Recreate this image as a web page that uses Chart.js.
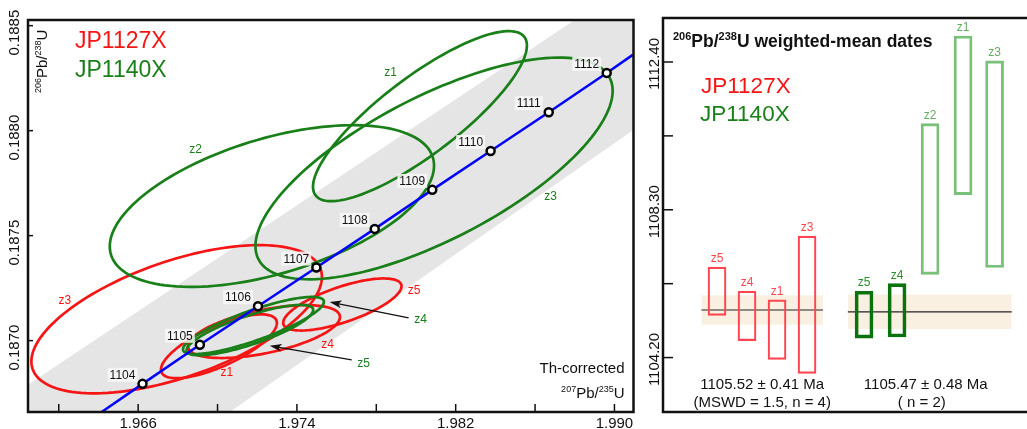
<!DOCTYPE html>
<html>
<head>
<meta charset="utf-8">
<script src="https://cdn.jsdelivr.net/npm/chart.js@4.4.1/dist/chart.umd.min.js"></script>
<style>
  body { margin: 0; background: #fff; width: 1027px; height: 429px; overflow: hidden; position: relative; }
  #concordia { position: absolute; left: 0; top: 0; }
  #dates { position: absolute; left: 640px; top: 0; }
</style>
</head>
<body>
<canvas id="concordia" width="640" height="429"></canvas>
<canvas id="dates" width="387" height="429"></canvas>
<script>
// ---- concordia panel data ----
const concAges = [1104, 1105, 1106, 1107, 1108, 1109, 1110, 1111, 1112];
const concX = [1.96622, 1.96911, 1.97204, 1.97498, 1.97792, 1.98082, 1.98376, 1.98669, 1.98961];
const concY = [0.186794, 0.186980, 0.187164, 0.187348, 0.187532, 0.187718, 0.187903, 0.188088, 0.188275];
// ends of the drawn concordia line
const lineEndX = [1.96416, 1.99092];
const lineEndY = [0.186660, 0.188361];
// decay-constant uncertainty band edges
const bandX = [1.9600, 1.9915];
const bandUpper = [0.186761, 0.188748];
const bandLower = [0.185959, 0.188039];

// error ellipses: centre, half widths, correlation
const redZircons = ['z3', 'z1', 'z4', 'z5'];
const redCx = [1.96794, 1.97007, 1.97234, 1.97629];
const redCy = [0.187102, 0.186973, 0.187043, 0.187172];
const redSx = [0.00732, 0.00292, 0.00383, 0.00298];
const redSy = [0.000353, 0.000152, 0.000126, 0.000124];
const redRho = [0.57, 0.73, 0.55, 0.70];

const greenZircons = ['z1', 'z2', 'z3', 'z4', 'z5'];
const greenCx = [1.98020, 1.97274, 1.98091, 1.97181, 1.97163];
const greenCy = [0.188069, 0.187641, 0.187820, 0.187072, 0.187050];
const greenSx = [0.00539, 0.00817, 0.00900, 0.00355, 0.00319];
const greenSy = [0.000405, 0.000385, 0.000528, 0.000136, 0.000120];
const greenRho = [0.83, 0.50, 0.70, 0.83, 0.80];

const xLabelTicks = [1.966, 1.974, 1.982, 1.990];
const xMinorTicks = [1.962, 1.970, 1.978, 1.986];
const yLabelTicks = [0.1870, 0.1875, 0.1880, 0.1885];

// ---- weighted mean panel data ----
const redDates = ['z5', 'z4', 'z1', 'z3'];
const redLow = [1105.37, 1104.67, 1104.15, 1103.76];
const redHigh = [1106.71, 1106.04, 1105.80, 1107.57];
const redPos = [1.8, 2.8, 3.8, 4.8];

const greenDates = ['z5', 'z4'];
const greenLow = [1104.74, 1104.77];
const greenHigh = [1106.04, 1106.25];
const greenPos = [6.7, 7.8];

const otherDates = ['z2', 'z1', 'z3'];
const otherLow = [1106.51, 1108.72, 1106.70];
const otherHigh = [1110.69, 1113.12, 1112.43];
const otherPos = [8.9, 10.0, 11.05];

const redMean = 1105.52, redErr = 0.41, redMswd = 1.5;
const greenMean = 1105.47, greenErr = 0.48;
const redSpan = [1.28, 5.33];
const greenSpan = [6.16, 11.62];

const dateLabelTicks = [1104.20, 1108.30, 1112.40];
const dateMinorTicks = [1106.25, 1110.35];

// ---- styling ----
const FONT = '"Liberation Sans", Arial, Helvetica, sans-serif';
const RED = '#f51515';
const GREEN = '#197f19';
Chart.defaults.font.family = FONT;

function font(size, bold) {
  return (bold ? 'bold ' : '') + size + 'px ' + FONT;
}

// text with superscript pieces, e.g. [['206', true], ['Pb/'], ['238', true], ['U']]
function richText(ctx, parts, x, y, size, align, color, bold) {
  const sup = Math.round(size * 0.62);
  let w = 0;
  parts.forEach(p => { ctx.font = font(p[1] ? sup : size, bold); w += ctx.measureText(p[0]).width; });
  let cx = align === 'right' ? x - w : align === 'center' ? x - w / 2 : x;
  ctx.fillStyle = color;
  ctx.textAlign = 'left';
  ctx.textBaseline = 'alphabetic';
  parts.forEach(p => {
    ctx.font = font(p[1] ? sup : size, bold);
    ctx.fillText(p[0], cx, p[1] ? y - size * 0.38 : y);
    cx += ctx.measureText(p[0]).width;
  });
}

function drawEllipse(ctx, xs, ys, cx, cy, sx, sy, rho, color) {
  const k = Math.sqrt(1 - rho * rho);
  ctx.beginPath();
  for (let i = 0; i <= 140; i++) {
    const t = i / 140 * 2 * Math.PI;
    const px = xs.getPixelForValue(cx + sx * Math.cos(t));
    const py = ys.getPixelForValue(cy + sy * (rho * Math.cos(t) + k * Math.sin(t)));
    if (i === 0) ctx.moveTo(px, py); else ctx.lineTo(px, py);
  }
  ctx.closePath();
  ctx.strokeStyle = color;
  ctx.lineWidth = 2.7;
  ctx.stroke();
}

function arrow(ctx, x1, y1, x2, y2) {
  const ang = Math.atan2(y2 - y1, x2 - x1);
  ctx.strokeStyle = '#111';
  ctx.fillStyle = '#111';
  ctx.lineWidth = 1.2;
  ctx.beginPath();
  ctx.moveTo(x1, y1);
  ctx.lineTo(x2 - 8 * Math.cos(ang), y2 - 8 * Math.sin(ang));
  ctx.stroke();
  ctx.beginPath();
  ctx.moveTo(x2, y2);
  ctx.lineTo(x2 - 12 * Math.cos(ang) + 4 * Math.sin(ang), y2 - 12 * Math.sin(ang) - 4 * Math.cos(ang));
  ctx.lineTo(x2 - 9 * Math.cos(ang), y2 - 9 * Math.sin(ang));
  ctx.lineTo(x2 - 12 * Math.cos(ang) - 4 * Math.sin(ang), y2 - 12 * Math.sin(ang) + 4 * Math.cos(ang));
  ctx.closePath();
  ctx.fill();
}

// labels and arrows placed in ratio space
const ellipseNotes = [
  ['z1', 1.97872, 0.188275, GREEN], ['z2', 1.96890, 0.187908, GREEN], ['z3', 1.98678, 0.187684, GREEN],
  ['z3', 1.96231, 0.187189, RED], ['z1', 1.97047, 0.186847, RED], ['z4', 1.97555, 0.186980, RED],
  ['z5', 1.97990, 0.187237, RED], ['z4', 1.98023, 0.187099, GREEN], ['z5', 1.97736, 0.186889, GREEN]
];
const noteArrows = [
  [1.97963, 0.187108, 1.97565, 0.187184],
  [1.97676, 0.186908, 1.97263, 0.186975]
];

const concordiaDecor = {
  id: 'concordiaDecor',
  beforeDatasetDraw(chart, args) {
    if (chart.data.datasets[args.index].label !== 'concordia') return;
    const { ctx, chartArea: a, scales: { x, y } } = chart;
    ctx.save();
    ctx.beginPath();
    ctx.rect(a.left, a.top, a.right - a.left, a.bottom - a.top);
    ctx.clip();
    redZircons.forEach((z, i) => drawEllipse(ctx, x, y, redCx[i], redCy[i], redSx[i], redSy[i], redRho[i], RED));
    greenZircons.forEach((z, i) => drawEllipse(ctx, x, y, greenCx[i], greenCy[i], greenSx[i], greenSy[i], greenRho[i], GREEN));
    ctx.restore();
  },
  afterDatasetsDraw(chart) {
    const ctx = chart.ctx;
    ctx.save();
    chart.getDatasetMeta(0).data.forEach((pt, i) => {
      const txt = String(concAges[i]);
      ctx.font = font(12);
      const w = ctx.measureText(txt).width;
      const cx = pt.x - 20, cy = pt.y - 9;
      ctx.fillStyle = 'rgba(248,248,248,0.85)';
      ctx.fillRect(cx - w / 2 - 2, cy - 7, w + 4, 14);
      ctx.fillStyle = '#111';
      ctx.textAlign = 'center';
      ctx.textBaseline = 'middle';
      ctx.fillText(txt, cx, cy + 1);
    });
    ctx.restore();
  },
  afterDraw(chart) {
    const { ctx, chartArea: a, scales: { x, y } } = chart;
    ctx.save();
    // ticks
    ctx.strokeStyle = '#111';
    ctx.lineWidth = 1.5;
    x.ticks.forEach(t => {
      const px = x.getPixelForValue(t.value);
      ctx.beginPath(); ctx.moveTo(px, a.bottom); ctx.lineTo(px, a.bottom - 8); ctx.stroke();
    });
    y.ticks.forEach(t => {
      const py = y.getPixelForValue(t.value);
      ctx.beginPath(); ctx.moveTo(a.left, py); ctx.lineTo(a.left + 5, py); ctx.stroke();
      ctx.save();
      ctx.translate(15, py + 7);
      ctx.rotate(-Math.PI / 2);
      ctx.font = font(15);
      ctx.fillStyle = '#111';
      ctx.textAlign = 'center';
      ctx.textBaseline = 'middle';
      ctx.fillText(t.value.toFixed(4), 0, 0);
      ctx.restore();
    });
    // frame
    ctx.lineWidth = 2.5;
    ctx.strokeRect(a.left, a.top, a.right - a.left, a.bottom - a.top);
    // axis titles
    ctx.save();
    ctx.translate(47, 93);
    ctx.rotate(-Math.PI / 2);
    richText(ctx, [['206', true], ['Pb/'], ['238', true], ['U']], 0, 0, 15, 'left', '#111');
    ctx.restore();
    richText(ctx, [['Th-corrected']], a.right - 9, 373, 15, 'right', '#111');
    richText(ctx, [['207', true], ['Pb/'], ['235', true], ['U']], a.right - 9, 398, 15, 'right', '#111');
    // sample names
    richText(ctx, [['JP1127X']], 75, 48, 23, 'left', RED);
    richText(ctx, [['JP1140X']], 75, 76.5, 23, 'left', GREEN);
    // zircon labels and arrows
    ellipseNotes.forEach(n => {
      ctx.font = font(12);
      ctx.fillStyle = n[3];
      ctx.textAlign = 'center';
      ctx.textBaseline = 'middle';
      ctx.fillText(n[0], x.getPixelForValue(n[1]), y.getPixelForValue(n[2]));
    });
    noteArrows.forEach(r => arrow(ctx, x.getPixelForValue(r[0]), y.getPixelForValue(r[1]),
      x.getPixelForValue(r[2]), y.getPixelForValue(r[3])));
    ctx.restore();
  }
};

new Chart(document.getElementById('concordia'), {
  type: 'line',
  data: {
    datasets: [
      {
        label: 'ages',
        data: concX.map((v, i) => ({ x: v, y: concY[i] })),
        showLine: false,
        pointRadius: 4,
        pointBackgroundColor: '#fff',
        pointBorderColor: '#000',
        pointBorderWidth: 2.5,
        order: 0
      },
      {
        label: 'concordia',
        data: [{ x: lineEndX[0], y: lineEndY[0] }]
          .concat(concX.map((v, i) => ({ x: v, y: concY[i] })))
          .concat([{ x: lineEndX[1], y: lineEndY[1] }]),
        borderColor: '#0000ff',
        borderWidth: 2.5,
        pointRadius: 0,
        fill: false,
        order: 1
      },
      {
        label: 'band upper',
        data: bandX.map((v, i) => ({ x: v, y: bandUpper[i] })),
        borderWidth: 0,
        pointRadius: 0,
        backgroundColor: '#e5e5e5',
        fill: '+1',
        order: 5
      },
      {
        label: 'band lower',
        data: bandX.map((v, i) => ({ x: v, y: bandLower[i] })),
        borderWidth: 0,
        pointRadius: 0,
        fill: false,
        order: 5
      }
    ]
  },
  options: {
    responsive: false,
    animation: false,
    layout: { padding: { top: 20, right: 6, left: 0, bottom: 0 } },
    plugins: { legend: { display: false }, tooltip: { enabled: false } },
    scales: {
      x: {
        type: 'linear',
        min: 1.96045,
        max: 1.99096,
        offset: false,
        afterBuildTicks: s => { s.ticks = xMinorTicks.concat(xLabelTicks).sort().map(v => ({ value: v })); },
        afterFit: s => { s.height = 17; },
        grid: { display: false, drawTicks: false },
        border: { display: false },
        ticks: {
          autoSkip: false,
          maxRotation: 0,
          padding: 3,
          color: '#111',
          font: { size: 15 },
          callback: v => xLabelTicks.includes(v) ? v.toFixed(3) : ''
        }
      },
      y: {
        type: 'linear',
        min: 0.18666,
        max: 0.188527,
        afterBuildTicks: s => { s.ticks = yLabelTicks.map(v => ({ value: v })); },
        afterFit: s => { s.width = 28; },
        grid: { display: false, drawTicks: false },
        border: { display: false },
        ticks: { display: false }
      }
    }
  },
  plugins: [concordiaDecor]
});

// ---- weighted mean dates ----
const RED_BOX = '#ff4650';
const GREEN_BOX = '#0b730b';
const PALE_BOX = '#79c079';

const datesDecor = {
  id: 'datesDecor',
  afterDraw(chart) {
    const { ctx, chartArea: a, scales: { x, y } } = chart;
    ctx.save();
    ctx.strokeStyle = '#111';
    ctx.lineWidth = 1.5;
    y.ticks.forEach(t => {
      const py = y.getPixelForValue(t.value);
      ctx.beginPath(); ctx.moveTo(a.left, py); ctx.lineTo(a.left + 10, py); ctx.stroke();
      if (!dateLabelTicks.includes(t.value)) return;
      ctx.save();
      ctx.translate(15, py + 2);
      ctx.rotate(-Math.PI / 2);
      ctx.font = font(15);
      ctx.fillStyle = '#111';
      ctx.textAlign = 'center';
      ctx.textBaseline = 'middle';
      ctx.fillText(t.value.toFixed(2), 0, 0);
      ctx.restore();
    });
    // frame: top, left, bottom
    ctx.lineWidth = 2.5;
    ctx.beginPath();
    ctx.moveTo(chart.width, a.top); ctx.lineTo(a.left, a.top);
    ctx.lineTo(a.left, a.bottom); ctx.lineTo(chart.width, a.bottom);
    ctx.stroke();
    // zircon labels over the boxes
    const groups = [[0, redDates, RED_BOX], [1, greenDates, '#2a8f2a'], [2, otherDates, '#5fae5f']];
    groups.forEach(g => {
      chart.getDatasetMeta(g[0]).data.forEach((bar, i) => {
        ctx.font = font(12);
        ctx.fillStyle = g[2];
        ctx.textAlign = 'center';
        ctx.textBaseline = 'alphabetic';
        ctx.fillText(g[1][i], bar.x, Math.min(bar.y, bar.base) - 5);
      });
    });
    // title and sample names
    richText(ctx, [['206', true], ['Pb/'], ['238', true], ['U weighted-mean dates']], 33, 47, 17.5, 'left', '#111', true);
    richText(ctx, [['JP1127X']], 61, 93.3, 22.5, 'left', RED);
    richText(ctx, [['JP1140X']], 60, 120.5, 22.5, 'left', GREEN);
    // results
    const rc = x.getPixelForValue((redSpan[0] + redSpan[1]) / 2);
    const gc = x.getPixelForValue((greenSpan[0] + greenSpan[1]) / 2) - 4;
    richText(ctx, [[redMean.toFixed(2) + ' \u00b1 ' + redErr.toFixed(2) + ' Ma']], rc, 389, 15, 'center', '#111');
    richText(ctx, [['(MSWD = ' + redMswd + ', n = ' + redDates.length + ')']], rc, 406.5, 15, 'center', '#111');
    richText(ctx, [[greenMean.toFixed(2) + ' \u00b1 ' + greenErr.toFixed(2) + ' Ma']], gc, 389, 15, 'center', '#111');
    richText(ctx, [['( n = ' + greenDates.length + ')']], gc - 4, 406.5, 15, 'center', '#111');
    ctx.restore();
  }
};

function boxes(pos, low, high, color, width) {
  return {
    type: 'bar',
    data: pos.map((p, i) => ({ x: p, y: [low[i], high[i]] })),
    backgroundColor: 'rgba(0,0,0,0)',
    borderColor: color,
    borderWidth: width,
    borderSkipped: false,
    barThickness: 18,
    grouped: false,
    order: 1
  };
}

function meanLine(span, value) {
  return {
    type: 'line',
    data: span.map(v => ({ x: v, y: value })),
    borderColor: '#222',
    borderWidth: 1.2,
    pointRadius: 0,
    fill: false,
    order: 2
  };
}

function meanBand(span, value, err) {
  return {
    type: 'line',
    data: span.map(v => ({ x: v, y: value + err })),
    borderWidth: 0,
    pointRadius: 0,
    backgroundColor: '#faf0e2',
    fill: { value: value - err },
    order: 3
  };
}

new Chart(document.getElementById('dates'), {
  type: 'bar',
  data: {
    datasets: [
      boxes(redPos, redLow, redHigh, RED_BOX, 1.5),
      boxes(greenPos, greenLow, greenHigh, GREEN_BOX, 3),
      boxes(otherPos, otherLow, otherHigh, PALE_BOX, 2.2),
      meanLine(redSpan, redMean),
      meanLine(greenSpan, greenMean),
      meanBand(redSpan, redMean, redErr),
      meanBand(greenSpan, greenMean, greenErr)
    ]
  },
  options: {
    responsive: false,
    animation: false,
    layout: { padding: { top: 18, right: 0, left: 0, bottom: 0 } },
    plugins: { legend: { display: false }, tooltip: { enabled: false } },
    scales: {
      x: {
        type: 'linear',
        min: 0,
        max: 12.13,
        offset: false,
        afterFit: s => { s.height = 17; },
        grid: { display: false, drawTicks: false },
        border: { display: false },
        ticks: { display: false }
      },
      y: {
        type: 'linear',
        min: 1102.69,
        max: 1113.62,
        afterBuildTicks: s => { s.ticks = dateLabelTicks.concat(dateMinorTicks).sort().map(v => ({ value: v })); },
        afterFit: s => { s.width = 23; },
        grid: { display: false, drawTicks: false },
        border: { display: false },
        ticks: { display: false }
      }
    }
  },
  plugins: [datesDecor]
});
</script>
</body>
</html>
